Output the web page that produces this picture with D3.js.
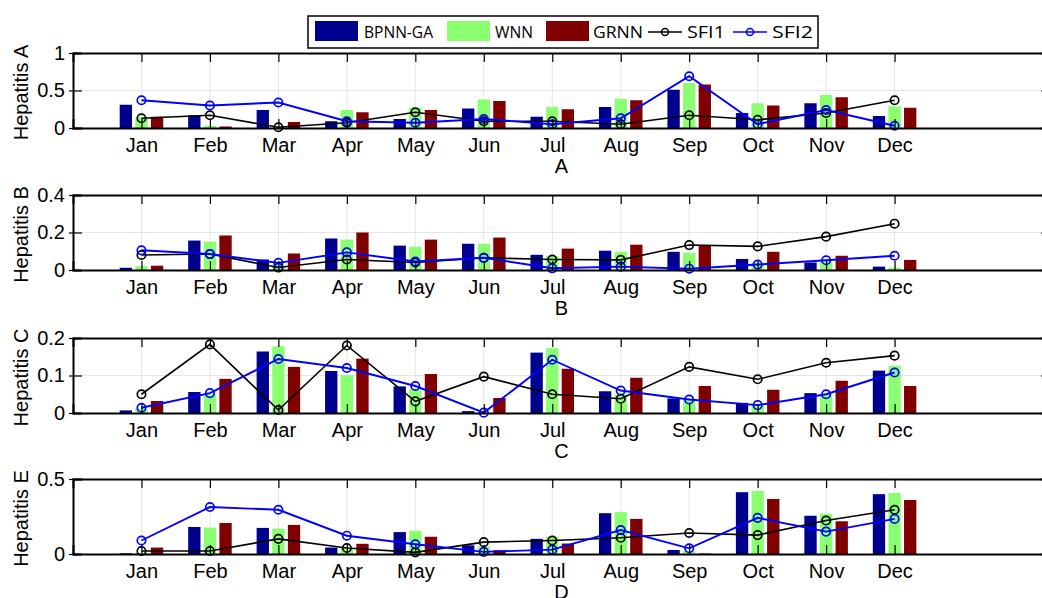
<!DOCTYPE html>
<html>
<head>
<meta charset="utf-8">
<script src="https://cdn.jsdelivr.net/npm/d3@7"></script>
<style>
  body { margin: 0; background: #fff; }
  text { font-family: "Liberation Sans", Arial, sans-serif; }
</style>
</head>
<body>
<div id="chart-area"></div>
<script>
var months = ["Jan","Feb","Mar","Apr","May","Jun","Jul","Aug","Sep","Oct","Nov","Dec"];
var seriesNames = ["BPNN-GA","WNN","GRNN","SFI1","SFI2"];
var panelLetters = ["A","B","C","D"];
var panelLabels = ["Hepatitis A","Hepatitis B","Hepatitis C","Hepatitis E"];
var yMax = [1, 0.4, 0.2, 0.5];
var yTicks = [[0,0.5,1],[0,0.2,0.4],[0,0.1,0.2],[0,0.5]];

// Hepatitis A
var bpnnA = [0.31,0.17,0.24,0.09,0.12,0.26,0.15,0.28,0.51,0.20,0.33,0.16];
var wnnA  = [0.14,0.03,0.01,0.24,0.27,0.38,0.28,0.39,0.60,0.33,0.44,0.29];
var grnnA = [0.15,0.02,0.08,0.21,0.24,0.36,0.25,0.37,0.58,0.30,0.41,0.27];
var sfi1A = [0.13,0.17,0.01,0.07,0.21,0.09,0.09,0.05,0.17,0.11,0.20,0.37];
var sfi2A = [0.37,0.30,0.34,0.09,0.07,0.12,0.05,0.13,0.69,0.05,0.24,0.03];
// Hepatitis B
var bpnnB = [0.012,0.157,0.056,0.168,0.130,0.140,0.081,0.103,0.097,0.059,0.040,0.018];
var wnnB  = [0.020,0.151,0.030,0.162,0.124,0.140,0.076,0.097,0.092,0.040,0.045,0.012];
var grnnB = [0.023,0.184,0.088,0.200,0.162,0.173,0.114,0.135,0.130,0.097,0.076,0.054];
var sfi1B = [0.080,0.085,0.013,0.056,0.040,0.065,0.056,0.054,0.133,0.126,0.178,0.247];
var sfi2B = [0.105,0.085,0.038,0.094,0.045,0.065,0.009,0.018,0.007,0.029,0.052,0.076];
// Hepatitis C
var bpnnC = [0.007,0.056,0.164,0.112,0.071,0.005,0.161,0.058,0.039,0.027,0.053,0.113];
var wnnC  = [0.012,0.050,0.178,0.101,0.063,0.002,0.173,0.050,0.035,0.020,0.050,0.126];
var grnnC = [0.032,0.091,0.123,0.145,0.104,0.040,0.118,0.094,0.072,0.062,0.086,0.072];
var sfi1C = [0.050,0.183,0.008,0.180,0.031,0.097,0.050,0.038,0.123,0.090,0.134,0.153];
var sfi2C = [0.014,0.053,0.144,0.120,0.072,0.001,0.142,0.060,0.036,0.021,0.050,0.108];
// Hepatitis E
var bpnnE = [0.005,0.180,0.174,0.043,0.146,0.058,0.101,0.272,0.027,0.412,0.255,0.399];
var wnnE  = [0.005,0.176,0.169,0.040,0.155,0.050,0.115,0.279,0.020,0.421,0.268,0.407];
var grnnE = [0.043,0.207,0.194,0.068,0.115,0.025,0.070,0.234,0.003,0.367,0.218,0.360];
var sfi1E = [0.020,0.020,0.101,0.040,0.011,0.079,0.090,0.108,0.140,0.126,0.223,0.295];
var sfi2E = [0.090,0.313,0.295,0.122,0.065,0.014,0.029,0.160,0.038,0.241,0.149,0.234];

var panels = [
  {bars: [bpnnA, wnnA, grnnA], lines: [sfi1A, sfi2A]},
  {bars: [bpnnB, wnnB, grnnB], lines: [sfi1B, sfi2B]},
  {bars: [bpnnC, wnnC, grnnC], lines: [sfi1C, sfi2C]},
  {bars: [bpnnE, wnnE, grnnE], lines: [sfi1E, sfi2E]}
];

var barColors = ["#00008f", "#8aff70", "#800000"];
var lineColors = ["#000000", "#0000ff"];
var panelTop = [53, 195, 338, 479];
var panelH = 75;
var left = 73, right = 1050;

var svg = d3.select("#chart-area")
  .append("svg")
  .attr("width", 1042)
  .attr("height", 598);

var x = d3.scaleLinear().domain([0, 14.27]).range([left, right]);
var unit = x(1) - x(0);
var barW = 0.18 * unit;
var offsets = [-0.228, 0, 0.228];

panels.forEach(function(p, k) {
  var y = d3.scaleLinear().domain([0, yMax[k]]).range([panelTop[k] + panelH, panelTop[k]]);
  var g = svg.append("g");

  // grid
  g.selectAll(".vgrid").data(months).enter().append("line")
    .attr("x1", (d, i) => x(i + 1)).attr("x2", (d, i) => x(i + 1))
    .attr("y1", y(0)).attr("y2", y(yMax[k]))
    .attr("stroke", "#e4e4e4").attr("stroke-width", 1);
  g.selectAll(".hgrid").data(yTicks[k].slice(1, -1)).enter().append("line")
    .attr("x1", left).attr("x2", right)
    .attr("y1", d => y(d)).attr("y2", d => y(d))
    .attr("stroke", "#e4e4e4").attr("stroke-width", 1);

  // bars
  p.bars.forEach(function(vals, s) {
    g.selectAll(".bar" + s).data(vals).enter().append("rect")
      .attr("x", (d, i) => x(i + 1 + offsets[s]) - barW / 2)
      .attr("width", barW)
      .attr("y", d => y(d))
      .attr("height", d => y(0) - y(d))
      .attr("fill", barColors[s]);
  });

  // lines
  p.lines.forEach(function(vals, s) {
    var line = d3.line().x((d, i) => x(i + 1)).y(d => y(d));
    g.append("path").datum(vals)
      .attr("d", line)
      .attr("fill", "none")
      .attr("stroke", lineColors[s])
      .attr("stroke-width", s == 1 ? 1.9 : 1.6);
    g.selectAll(".mk" + s).data(vals).enter().append("circle")
      .attr("cx", (d, i) => x(i + 1))
      .attr("cy", d => y(d))
      .attr("r", 4.2)
      .attr("fill", "none")
      .attr("stroke", lineColors[s])
      .attr("stroke-width", 1.7);
  });

  // axes
  var xAxisBottom = d3.axisBottom(x).tickValues(d3.range(1, 13)).tickSize(-9).tickPadding(10)
    .tickFormat(d => months[d - 1]);
  var xAxisTop = d3.axisTop(x).tickValues(d3.range(1, 13)).tickSize(-9).tickFormat("");
  var yAxisLeft = d3.axisLeft(y).tickValues(yTicks[k]).tickSize(-9).tickPadding(8)
    .tickFormat(d => String(d));
  var yAxisRight = d3.axisRight(y).tickValues(yTicks[k]).tickSize(-9).tickFormat("");

  var gb = g.append("g").attr("transform", "translate(0," + y(0) + ")").call(xAxisBottom);
  var gt = g.append("g").attr("transform", "translate(0," + y(yMax[k]) + ")").call(xAxisTop);
  var gl = g.append("g").attr("transform", "translate(" + left + ",0)").call(yAxisLeft);
  var gr = g.append("g").attr("transform", "translate(" + right + ",0)").call(yAxisRight);
  [gb, gt, gl, gr].forEach(function(a) {
    a.select(".domain").attr("stroke", "#000").attr("stroke-width", 2);
    a.selectAll(".tick line").attr("stroke", "#000").attr("stroke-width", 1.2);
    a.selectAll(".tick text").attr("font-size", "20px").attr("fill", "#000");
  });
  // outward stubs on left ticks
  gl.selectAll(".tick").append("line").attr("x1", -4).attr("x2", 0)
    .attr("stroke", "#000").attr("stroke-width", 1.2);

  g.append("text")
    .attr("x", (left + right) / 2)
    .attr("y", y(0) + 45)
    .attr("text-anchor", "middle")
    .attr("font-size", "20px")
    .text(panelLetters[k]);

  g.append("text")
    .attr("transform", "translate(28," + (panelTop[k] + panelH / 2 + 2) + ") rotate(-90)")
    .attr("text-anchor", "middle")
    .attr("font-size", "20px")
    .text(panelLabels[k]);
});

// legend
var legend = svg.append("g");
legend.append("rect")
  .attr("x", 308).attr("y", 16).attr("width", 510).attr("height", 32)
  .attr("fill", "#fff").attr("stroke", "#000").attr("stroke-width", 1.5);

var legendItems = [
  {type: "bar", color: barColors[0], x: 315, tx: 364, tw: 69},
  {type: "bar", color: barColors[1], x: 447, tx: 495, tw: 38},
  {type: "bar", color: barColors[2], x: 546, tx: 593, tw: 50},
  {type: "line", color: lineColors[0], x: 648, tx: 687, tw: 38},
  {type: "line", color: lineColors[1], x: 733, tx: 772, tw: 41}
];
legendItems.forEach(function(it, i) {
  if (it.type == "bar") {
    legend.append("rect").attr("x", it.x).attr("y", 21).attr("width", 43).attr("height", 20)
      .attr("fill", it.color);
  } else {
    legend.append("line").attr("x1", it.x).attr("x2", it.x + 34).attr("y1", 32).attr("y2", 32)
      .attr("stroke", it.color).attr("stroke-width", 1.6);
    legend.append("circle").attr("cx", it.x + 17).attr("cy", 32).attr("r", 3.5)
      .attr("fill", "none").attr("stroke", it.color).attr("stroke-width", 1.5);
  }
  legend.append("text")
    .attr("x", it.tx).attr("y", 38)
    .attr("font-size", "17px")
    .attr("textLength", it.tw)
    .attr("lengthAdjust", "spacingAndGlyphs")
    .style("font-family", "'Open Sans', 'Liberation Sans', sans-serif")
    .text(seriesNames[i]);
});
</script>
</body>
</html>
